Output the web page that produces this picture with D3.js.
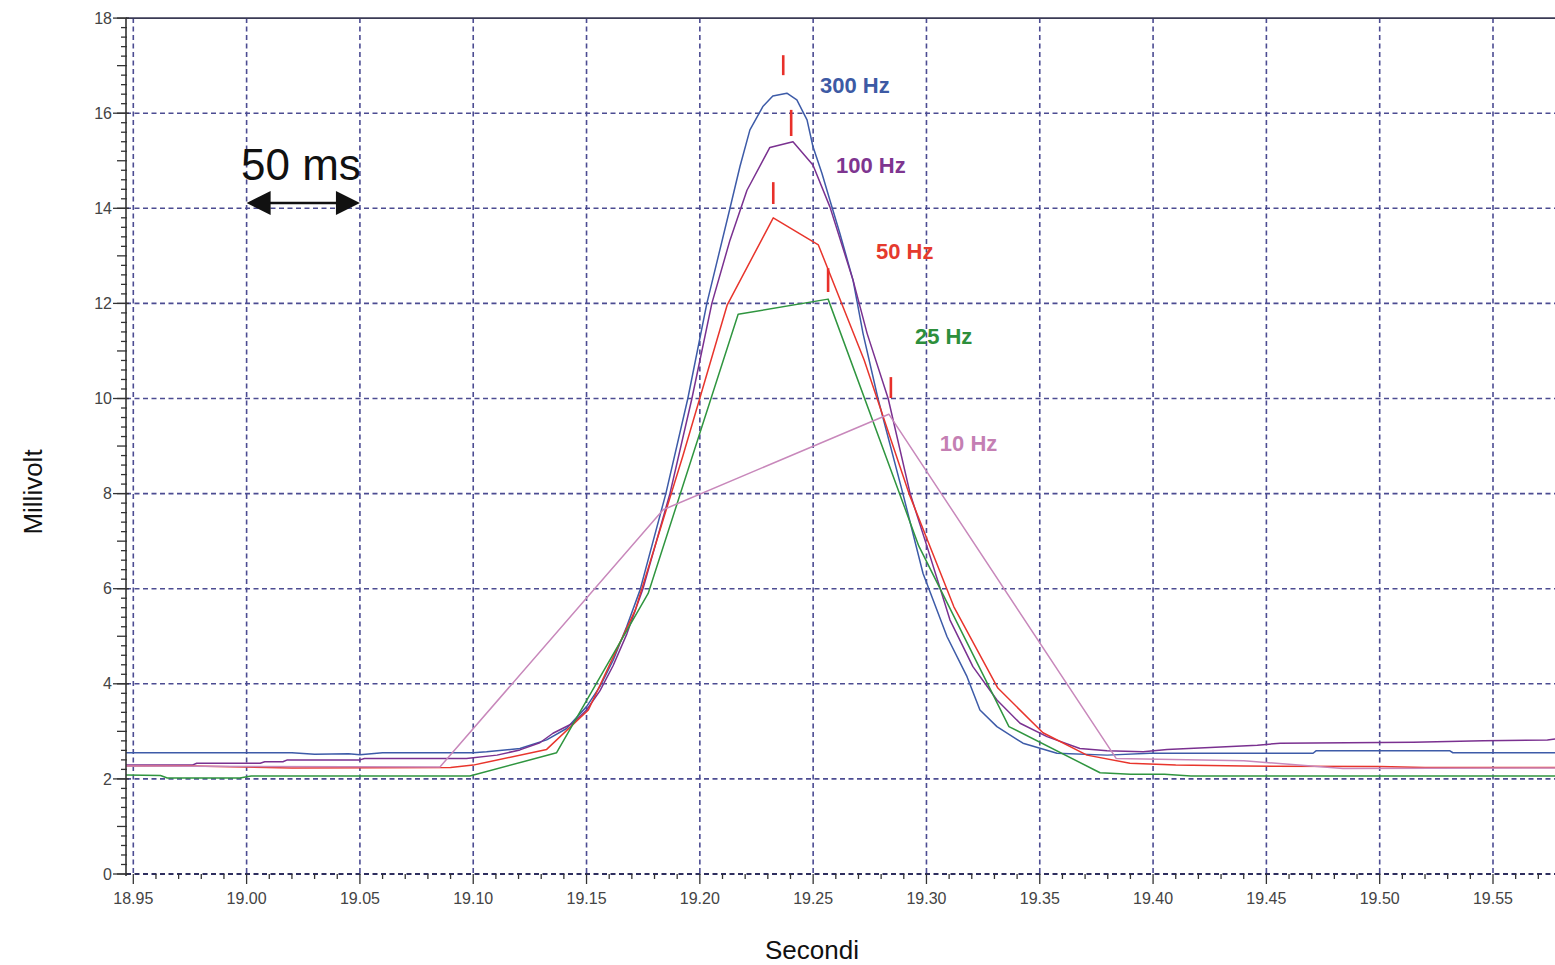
<!DOCTYPE html>
<html>
<head>
<meta charset="utf-8">
<script src="https://cdn.jsdelivr.net/npm/d3@7"></script>
<style>
  body { margin: 0; background: #fff; }
  text { font-family: "Liberation Sans", Arial, sans-serif; }
</style>
</head>
<body>
<svg id="chart" width="1555" height="965"></svg>
<script>
// series: time (s) and value (mV)
const t300 = [18.946, 19.02, 19.03, 19.045, 19.05, 19.06, 19.10, 19.1059, 19.1206, 19.1324, 19.1412, 19.15, 19.1559, 19.1618, 19.1677, 19.1736, 19.185, 19.1947, 19.2031, 19.2133, 19.2177, 19.2221, 19.2278, 19.2322, 19.2384, 19.2428, 19.2473, 19.2499, 19.2539, 19.2574, 19.2618, 19.2676, 19.272, 19.2786, 19.2896, 19.2985, 19.3091, 19.3179, 19.3236, 19.3311, 19.3426, 19.3576, 19.3797, 19.3986, 19.4706, 19.4719, 19.531, 19.5323, 19.58];
const v300 = [2.55, 2.55, 2.52, 2.53, 2.51, 2.55, 2.55, 2.57, 2.64, 2.82, 3.06, 3.52, 3.94, 4.50, 5.20, 5.97, 8.0, 10.0, 12.0, 14.0, 14.88, 15.65, 16.14, 16.36, 16.42, 16.28, 15.86, 15.30, 14.73, 14.17, 13.47, 12.49, 11.37, 10.0, 8.0, 6.32, 4.99, 4.15, 3.45, 3.10, 2.75, 2.54, 2.50, 2.54, 2.54, 2.59, 2.59, 2.55, 2.55];

const t100 = [18.946, 18.976, 18.978, 19.006, 19.008, 19.016, 19.018, 19.05, 19.052, 19.097, 19.1105, 19.1206, 19.1294, 19.1352, 19.144, 19.15, 19.1559, 19.1617, 19.1678, 19.1749, 19.1868, 19.1965, 19.2053, 19.2133, 19.2208, 19.2309, 19.2411, 19.2499, 19.2574, 19.2676, 19.2738, 19.2831, 19.2928, 19.3003, 19.3104, 19.3205, 19.3311, 19.3413, 19.3532, 19.3677, 19.3797, 19.3956, 19.4062, 19.4252, 19.446, 19.4561, 19.5148, 19.5457, 19.574, 19.58];
const v100 = [2.29, 2.29, 2.33, 2.33, 2.36, 2.36, 2.40, 2.40, 2.43, 2.43, 2.50, 2.61, 2.76, 2.96, 3.17, 3.45, 3.85, 4.38, 5.05, 6.0, 8.0, 10.0, 12.0, 13.33, 14.38, 15.28, 15.40, 14.91, 14.03, 12.49, 11.37, 10.0, 8.0, 6.88, 5.34, 4.36, 3.66, 3.17, 2.89, 2.64, 2.59, 2.57, 2.62, 2.66, 2.71, 2.75, 2.77, 2.80, 2.82, 2.85];

const t50 = [18.946, 18.976, 19.02, 19.09, 19.10, 19.1324, 19.1508, 19.1715, 19.1925, 19.2121, 19.2324, 19.2523, 19.2725, 19.2923, 19.3121, 19.3315, 19.3514, 19.3708, 19.3898, 19.41, 19.44, 19.50, 19.52, 19.58];
const v50 = [2.27, 2.27, 2.23, 2.24, 2.29, 2.62, 3.45, 5.55, 8.79, 11.97, 13.80, 13.23, 10.81, 8.0, 5.62, 3.91, 2.97, 2.50, 2.33, 2.29, 2.27, 2.26, 2.24, 2.24];

const t25 = [18.946, 18.962, 18.965, 18.997, 19.002, 19.0985, 19.1368, 19.1772, 19.2169, 19.2566, 19.2966, 19.3364, 19.3766, 19.39, 19.405, 19.4167, 19.58];
const v25 = [2.08, 2.07, 2.02, 2.02, 2.06, 2.06, 2.55, 5.9, 11.77, 12.09, 6.9, 3.10, 2.13, 2.10, 2.10, 2.06, 2.06];

const t10 = [18.946, 19.0853, 19.1838, 19.2834, 19.3837, 19.44, 19.4838, 19.58];
const v10 = [2.27, 2.25, 7.66, 9.67, 2.43, 2.38, 2.22, 2.23];

const seriesNames = ['300 Hz', '100 Hz', '50 Hz', '25 Hz', '10 Hz'];
const seriesColors = ['#3d5ba8', '#7a3190', '#e8352c', '#2f953f', '#c888bb'];
const labelColors = ['#3d5aa4', '#7e3590', '#e53a2e', '#2d8f3c', '#c47fb3'];

// red peak marks
const markerTimes = [19.2368, 19.2403, 19.2324, 19.2566, 19.2843];
const markerLow = [16.80, 15.52, 14.09, 12.24, 10.01];
const markerHigh = [17.22, 16.07, 14.55, 12.74, 10.45];

// where the series names sit (time, mV)
const labelTimes = [19.2530, 19.2601, 19.2777, 19.2949, 19.3059];
const labelValues = [16.59, 14.91, 13.10, 11.31, 9.06];

const xTicks = d3.range(0, 13).map(i => 18.95 + i * 0.05);
const yTicks = d3.range(0, 10).map(i => i * 2);

const svg = d3.select('#chart');
const plotLeft = 126, plotRight = 1555, plotTop = 18, plotBottom = 874;

const x = d3.scaleLinear().domain([18.95, 19.55]).range([133.3, 1493]);
const y = d3.scaleLinear().domain([0, 18]).range([874, 18.1]);

const gridColor = '#4c4c92';

// grid
const grid = svg.append('g');
grid.selectAll('.vg').data(xTicks).join('line')
    .attr('x1', d => x(d)).attr('x2', d => x(d))
    .attr('y1', plotTop).attr('y2', plotBottom)
    .attr('stroke', gridColor).attr('stroke-width', 1.6)
    .attr('stroke-dasharray', '5,3.5');
grid.selectAll('.hg').data(yTicks.slice(0, 9)).join('line')
    .attr('x1', plotLeft).attr('x2', plotRight)
    .attr('y1', d => y(d)).attr('y2', d => y(d))
    .attr('stroke', d => d === 0 ? '#2e2e5e' : gridColor)
    .attr('stroke-width', d => d === 0 ? 2 : 1.6)
    .attr('stroke-dasharray', '5,3.5');
// top border
svg.append('line')
    .attr('x1', plotLeft).attr('x2', plotRight).attr('y1', y(18)).attr('y2', y(18))
    .attr('stroke', '#3a3a55').attr('stroke-width', 1.6);

// curves
const series = [[t300, v300], [t100, v100], [t50, v50], [t25, v25], [t10, v10]];
svg.append('clipPath').attr('id', 'plot')
    .append('rect').attr('x', plotLeft).attr('y', plotTop)
    .attr('width', plotRight - plotLeft).attr('height', plotBottom - plotTop);

const line = d3.line().x(d => x(d[0])).y(d => y(d[1]));
svg.append('g').attr('clip-path', 'url(#plot)')
    .selectAll('path').data(series).join('path')
    .attr('d', s => line(d3.zip(s[0], s[1])))
    .attr('fill', 'none')
    .attr('stroke', (s, i) => seriesColors[i])
    .attr('stroke-width', 1.5)
    .attr('stroke-linejoin', 'round');

// peak marks
svg.append('g').selectAll('line').data(markerTimes).join('line')
    .attr('x1', d => x(d)).attr('x2', d => x(d))
    .attr('y1', (d, i) => y(markerLow[i])).attr('y2', (d, i) => y(markerHigh[i]))
    .attr('stroke', '#e8302a').attr('stroke-width', 2.6);

// series labels
svg.append('g').selectAll('text').data(seriesNames).join('text')
    .attr('x', (d, i) => x(labelTimes[i]))
    .attr('y', (d, i) => y(labelValues[i]))
    .attr('dy', '0.36em')
    .attr('fill', (d, i) => labelColors[i])
    .attr('font-size', 22)
    .attr('font-weight', 'bold')
    .text(d => d);

// y axis
const yAxis = svg.append('g');
yAxis.append('line')
    .attr('x1', plotLeft).attr('x2', plotLeft).attr('y1', plotTop).attr('y2', plotBottom + 2)
    .attr('stroke', '#333').attr('stroke-width', 1.6);
const yMinor = d3.range(0, 91).map(i => i * 0.2);
yAxis.selectAll('.ym').data(yMinor).join('line')
    .attr('x1', (d, i) => i % 5 === 0 ? plotLeft - 9 : plotLeft - 5)
    .attr('x2', plotLeft + 1)
    .attr('y1', d => y(d)).attr('y2', d => y(d))
    .attr('stroke', '#333').attr('stroke-width', 1.3);
yAxis.selectAll('.yt').data(yTicks).join('line')
    .attr('x1', plotLeft - 13).attr('x2', plotLeft + 3)
    .attr('y1', d => y(d)).attr('y2', d => y(d))
    .attr('stroke', '#333').attr('stroke-width', 1.3);
yAxis.selectAll('text').data(yTicks).join('text')
    .attr('x', 112).attr('y', d => y(d)).attr('dy', '0.35em')
    .attr('text-anchor', 'end').attr('font-size', 16).attr('fill', '#444')
    .text(d => d);

// x axis
const xAxis = svg.append('g');
const xMinor = d3.range(0, 63).map(i => 18.95 + i * 0.01);
xAxis.selectAll('.xm').data(xMinor).join('line')
    .attr('x1', d => x(d)).attr('x2', d => x(d))
    .attr('y1', plotBottom).attr('y2', (d, i) => i % 5 === 0 ? plotBottom + 10 : plotBottom + 5)
    .attr('stroke', '#333').attr('stroke-width', 1.3);
xAxis.selectAll('text').data(xTicks).join('text')
    .attr('x', d => x(d)).attr('y', 904)
    .attr('text-anchor', 'middle').attr('font-size', 16).attr('fill', '#444')
    .text(d => d3.format('.2f')(d));

// axis titles
svg.append('text')
    .attr('transform', 'translate(42,492) rotate(-90)')
    .attr('text-anchor', 'middle').attr('font-size', 26).attr('fill', '#111')
    .text('Millivolt');
svg.append('text')
    .attr('x', 812).attr('y', 959)
    .attr('text-anchor', 'middle').attr('font-size', 26).attr('fill', '#111')
    .text('Secondi');

// 50 ms scale annotation
svg.append('text')
    .attr('x', 241).attr('y', 180)
    .attr('font-size', 44).attr('fill', '#111')
    .text('50 ms');
const arrowY = 203, ax0 = x(19.00), ax1 = x(19.05);
svg.append('line')
    .attr('x1', ax0 + 20).attr('x2', ax1 - 20).attr('y1', arrowY).attr('y2', arrowY)
    .attr('stroke', '#111').attr('stroke-width', 2.6);
svg.append('path')
    .attr('d', `M${ax0},${arrowY} L${ax0 + 24},${arrowY - 12} L${ax0 + 24},${arrowY + 12} Z`)
    .attr('fill', '#111');
svg.append('path')
    .attr('d', `M${ax1},${arrowY} L${ax1 - 24},${arrowY - 12} L${ax1 - 24},${arrowY + 12} Z`)
    .attr('fill', '#111');
</script>
</body>
</html>
